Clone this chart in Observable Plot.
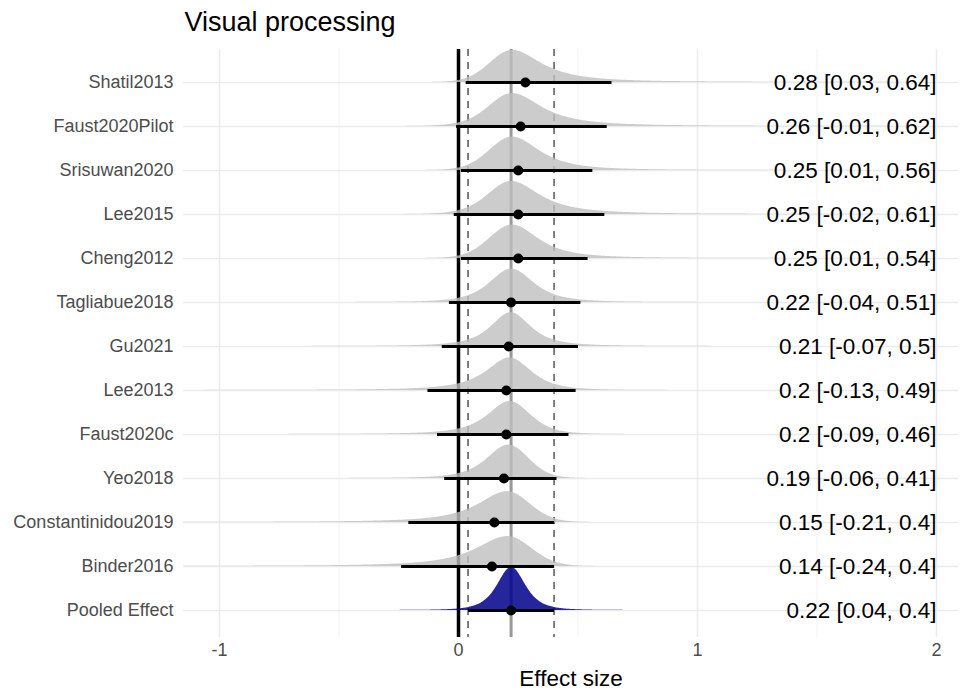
<!DOCTYPE html>
<html><head><meta charset="utf-8">
<script src="https://cdn.jsdelivr.net/npm/d3@7"></script>
<script src="https://cdn.jsdelivr.net/npm/@observablehq/plot@0.6"></script>
<style>body{margin:0;background:#fff;font-family:"Liberation Sans",Arial,sans-serif}</style>
</head><body><div id="chart"></div><script>
const title = "Visual processing";
const xTitle = "Effect size";
const studies = ["Shatil2013","Faust2020Pilot","Srisuwan2020","Lee2015","Cheng2012","Tagliabue2018","Gu2021","Lee2013","Faust2020c","Yeo2018","Constantinidou2019","Binder2016","Pooled Effect"];
const estimate = [0.28,0.26,0.25,0.25,0.25,0.22,0.21,0.2,0.2,0.19,0.15,0.14,0.22];
const lower = [0.03,-0.01,0.01,-0.02,0.01,-0.04,-0.07,-0.13,-0.09,-0.06,-0.21,-0.24,0.04];
const upper = [0.64,0.62,0.56,0.61,0.54,0.51,0.5,0.49,0.46,0.41,0.4,0.4,0.4];
// posterior density shape read from the ridges
const densityMode = [0.225,0.225,0.225,0.222,0.225,0.222,0.22,0.215,0.215,0.21,0.205,0.207,0.222];
const densityScaleLeft = [0.093,0.1,0.095,0.1,0.095,0.095,0.09,0.11,0.1,0.095,0.137,0.15,0.062];
const densityScaleRight = [0.14,0.14,0.125,0.135,0.12,0.1,0.09,0.095,0.09,0.085,0.095,0.1,0.062];
const densityTailLeft = [30,8,20,8,20,3,2,1.5,2,3,1.5,1.5,3];
const densityTailRight = [1.5,1.5,2,1.5,2,2.5,2,3,5,20,30,30,3];
const densityPeak = [0.73,0.75,0.76,0.75,0.76,0.76,0.77,0.74,0.75,0.76,0.70,0.68,0.98];
const pooledEstimate = 0.22, pooledLower = 0.04, pooledUpper = 0.4;
const xTicks = [-1, 0, 1, 2];
const xMinor = [-0.5, 0.5, 1.5];

const n = studies.length;
const pooledIndex = n - 1;
const rows = studies.map((s, i) => ({
  study: s, i, est: estimate[i], lo: lower[i], hi: upper[i],
  label: `${estimate[i]} [${lower[i]}, ${upper[i]}]`
}));

const xDomain = [-1.1506, 2.092];
const dens = [];
for (let i = 0; i < n; i++) {
  for (let x = -1.15; x <= 2.09; x += 0.004) {
    const d = x - densityMode[i];
    const s = d < 0 ? densityScaleLeft[i] : densityScaleRight[i];
    const nu = d < 0 ? densityTailLeft[i] : densityTailRight[i];
    const z = d / s;
    const f = Math.pow(1 + z * z / nu, -(nu + 1) / 2);
    dens.push({i, x, y1: i, y2: i - densityPeak[i] * f});
  }
}

const chart = Plot.plot({
  width: 960, height: 690,
  marginLeft: 183, marginRight: 2, marginTop: 49, marginBottom: 53,
  style: {fontFamily: "'Liberation Sans', Arial, sans-serif", background: "#fff"},
  x: {domain: xDomain},
  y: {domain: [12.614, -0.75]},
  marks: [
    Plot.ruleX(xMinor, {stroke: "#f3f3f3", strokeWidth: 1}),
    Plot.ruleX(xTicks, {stroke: "#ebebeb", strokeWidth: 1.5}),
    Plot.ruleY(d3.range(n), {stroke: "#ebebeb", strokeWidth: 1.5}),
    Plot.ruleX([0], {stroke: "#000", strokeWidth: 3.5}),
    Plot.ruleX([pooledEstimate], {stroke: "#999", strokeWidth: 3}),
    Plot.ruleX([pooledLower, pooledUpper], {stroke: "#777", strokeWidth: 1.9, strokeDasharray: "7,6"}),
    Plot.area(dens.filter(d => d.i !== pooledIndex), {x1: "x", y1: "y1", y2: "y2", z: "i", fill: "#bfbfbf", fillOpacity: 0.8}),
    Plot.area(dens.filter(d => d.i === pooledIndex), {x1: "x", y1: "y1", y2: "y2", z: "i", fill: "#00008B", fillOpacity: 0.85}),
    Plot.link(rows, {x1: "lo", x2: "hi", y1: "i", y2: "i", stroke: "#000", strokeWidth: 3}),
    Plot.dot(rows, {x: "est", y: "i", r: 5, fill: "#000", stroke: null}),
    Plot.text(rows, {x: () => 2, y: "i", text: "label", textAnchor: "end", fontSize: 22.5, fill: "#000"}),
    Plot.axisX({ticks: xTicks, tickSize: 0, tickPadding: 6, tickFormat: d => String(d), fontSize: 18, color: "#4d4d4d", label: null}),
    Plot.axisY(d3.range(n), {tickSize: 0, tickPadding: 10, tickFormat: i => studies[i], fontSize: 18, color: "#4d4d4d", label: null}),
    Plot.text([xTitle], {frameAnchor: "bottom", dy: 41, fontSize: 22.5, fill: "#000", lineAnchor: "middle"}),
    Plot.text([title], {frameAnchor: "top-left", dx: 1, dy: -27, fontSize: 27, fill: "#000", textAnchor: "start", lineAnchor: "middle"})
  ]
});
document.getElementById("chart").appendChild(chart);
</script></body></html>
